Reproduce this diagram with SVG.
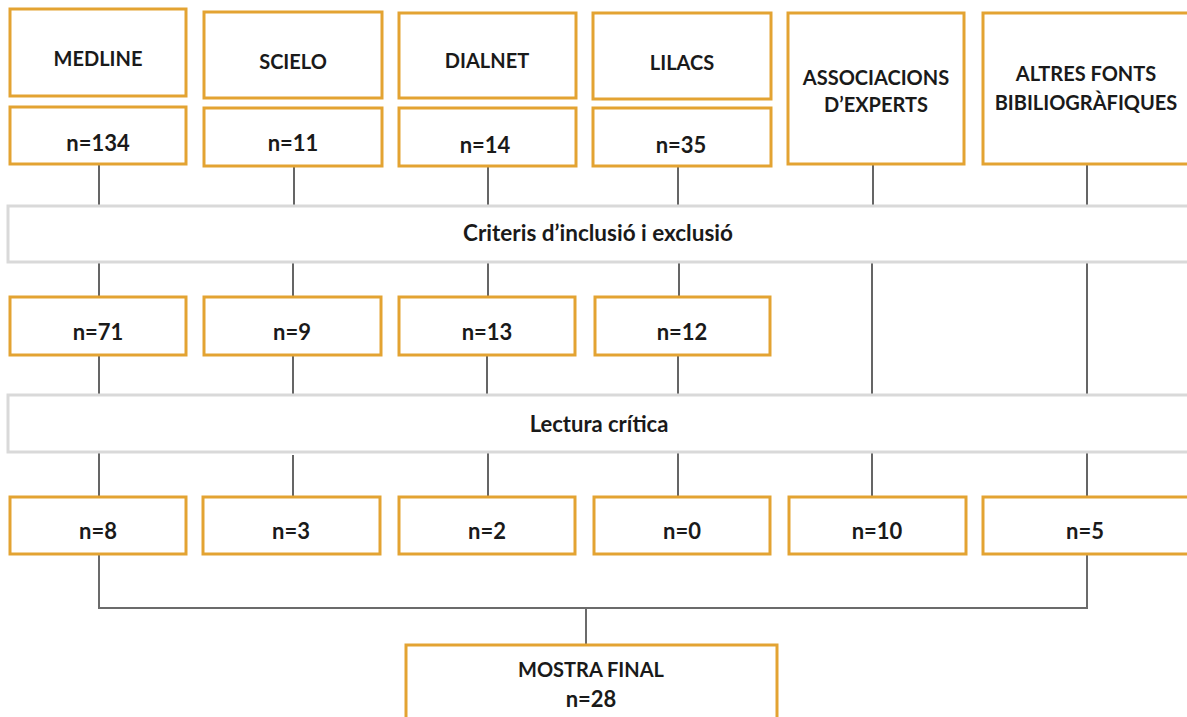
<svg xmlns="http://www.w3.org/2000/svg" width="1187" height="717" viewBox="0 0 1187 717">
<style>
.box{fill:#fff;stroke:#E3A332;stroke-width:3}
.bar{fill:#fff;stroke:#d9d9d9;stroke-width:3}
.t{font-family:Lato,"Open Sans","Liberation Sans",sans-serif;font-weight:bold;font-size:20px;fill:#1a1a1a;text-anchor:middle}
.n{font-size:22px}
.c{stroke:#333;stroke-width:1.5;fill:none}
.c2{stroke:#6b6b6b;stroke-width:2;fill:none}
</style>
<rect width="1187" height="717" fill="#fff"/>
<g id="connectors">
<path class="c" d="M99 164V206M294 166V208M488 166V206M678 166V206M873 164V206M1087 164V206"/>
<path class="c" d="M99 262V297M293 262V297M488 262V297M679 262V297M872 262V395M1087 262V395"/>
<path class="c" d="M99 355V395M293 355V395M487 355V395M678 355V395"/>
<path class="c" d="M99 452V497M293 455V497M488 452V497M678 452V497M872 452V497M1087 452V497"/>
<path class="c2" d="M99 554V608H1087V554M586 608V645"/>
</g>
<g id="medline"><rect class="box" x="10" y="9" width="176" height="87"/><text class="t" x="98" y="66">MEDLINE</text></g>
<g id="scielo"><rect class="box" x="204" y="12" width="178" height="86"/><text class="t" x="293" y="69">SCIELO</text></g>
<g id="dialnet"><rect class="box" x="399" y="13" width="177" height="85"/><text class="t" x="487" y="68">DIALNET</text></g>
<g id="lilacs"><rect class="box" x="593" y="13" width="178" height="86"/><text class="t" x="682" y="70">LILACS</text></g>
<g id="associacions"><rect class="box" x="788" y="13" width="176" height="151"/><text class="t" x="876" y="85">ASSOCIACIONS</text><text class="t" x="876" y="112">D’EXPERTS</text></g>
<g id="altres"><rect class="box" x="983" y="13" width="208" height="151"/><text class="t" x="1086" y="81">ALTRES FONTS</text><text class="t" x="1086" y="110">BIBILIOGRÀFIQUES</text></g>
<g id="n134"><rect class="box" x="10" y="107" width="176" height="57"/><text class="t n" x="98" y="151">n=134</text></g>
<g id="n11"><rect class="box" x="204" y="108" width="178" height="58"/><text class="t n" x="293" y="151">n=11</text></g>
<g id="n14"><rect class="box" x="399" y="108" width="177" height="58"/><text class="t n" x="485" y="153">n=14</text></g>
<g id="n35"><rect class="box" x="593" y="108" width="178" height="58"/><text class="t n" x="681" y="153">n=35</text></g>
<g id="criteris"><rect class="bar" x="8" y="206" width="1190" height="56"/><text class="t n" x="598" y="241" style="font-size:22.5px">Criteris d’inclusió i exclusió</text></g>
<g id="n71"><rect class="box" x="10" y="297" width="176" height="58"/><text class="t n" x="98" y="340">n=71</text></g>
<g id="n9"><rect class="box" x="204" y="297" width="177" height="58"/><text class="t n" x="292" y="340">n=9</text></g>
<g id="n13"><rect class="box" x="399" y="297" width="176" height="58"/><text class="t n" x="487" y="340">n=13</text></g>
<g id="n12"><rect class="box" x="595" y="297" width="175" height="58"/><text class="t n" x="682" y="340">n=12</text></g>
<g id="lectura"><rect class="bar" x="8" y="395" width="1190" height="57"/><text class="t n" x="599" y="432">Lectura crítica</text></g>
<g id="n8"><rect class="box" x="10" y="497" width="176" height="57"/><text class="t n" x="98" y="539">n=8</text></g>
<g id="n3"><rect class="box" x="203" y="497" width="177" height="57"/><text class="t n" x="291" y="539">n=3</text></g>
<g id="n2"><rect class="box" x="399" y="497" width="176" height="57"/><text class="t n" x="487" y="539">n=2</text></g>
<g id="n0"><rect class="box" x="594" y="497" width="176" height="57"/><text class="t n" x="682" y="539">n=0</text></g>
<g id="n10"><rect class="box" x="789" y="497" width="177" height="57"/><text class="t n" x="877" y="539">n=10</text></g>
<g id="n5"><rect class="box" x="983" y="497" width="208" height="57"/><text class="t n" x="1085" y="539">n=5</text></g>
<g id="mostra"><rect class="box" x="406" y="645" width="371" height="80"/><text class="t" x="591" y="677">MOSTRA FINAL</text><text class="t n" x="591" y="707">n=28</text></g>
</svg>
